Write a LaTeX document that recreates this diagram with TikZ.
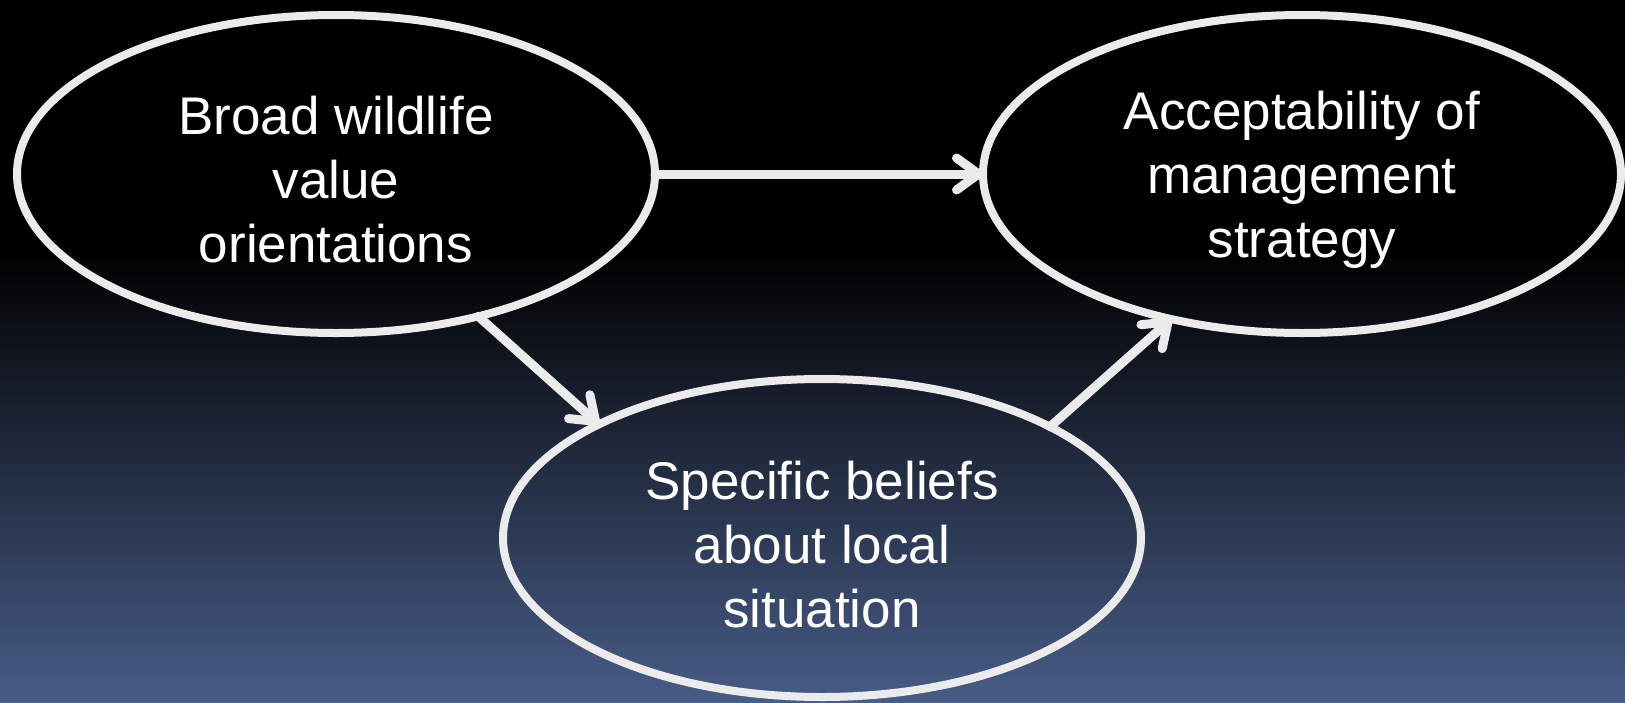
\documentclass[tikz,border=0pt]{standalone}
\usepackage{fontspec}
\setmainfont{Liberation Sans}
\usetikzlibrary{shapes.geometric,arrows.meta}
\definecolor{bgbottom}{HTML}{475C86}
\definecolor{strokecol}{HTML}{EBEBEB}
\tikzset{
  oval/.style={ellipse, draw=strokecol, line width=8pt, minimum width=638pt, minimum height=318pt,
    inner sep=0pt, outer sep=0pt},
  ovaltext/.style={align=center, text=white, inner sep=0pt,
    font=\fontsize{53}{64}\selectfont},
  link/.style={draw=strokecol, line width=9pt, line cap=round,
    -{Straight Barb[round,length=22pt,width=32pt]}}
}
\begin{document}
\begin{tikzpicture}[x=1pt,y=-1pt]
\useasboundingbox (0,0) rectangle (1625,702);
\fill[black] (0,0) rectangle (1625,251);
\shade[top color=black, bottom color=bgbottom] (0,250) rectangle (1625,702);
\node[oval] (L) at (336,174) {};
\node[oval] (R) at (1302,174) {};
\node[oval] (B) at (822,538) {};
\node[ovaltext] (Lt) at ([yshift=-6pt]L.center) {Broad wildlife\\value\\orientations};
\node[ovaltext] (Rt) at ([yshift=-6pt]R.center) {Acceptability of\\management\\strategy};
\node[ovaltext] (Bt) at ([yshift=-7pt]B.center) {Specific beliefs\\about local\\situation};
\draw[link] (L.east) -- (R.west);
\draw[link] (L.-45) -- (B.153.6);
\draw[link] (B.26.6) -- (R.-132.6);
\end{tikzpicture}
\end{document}
